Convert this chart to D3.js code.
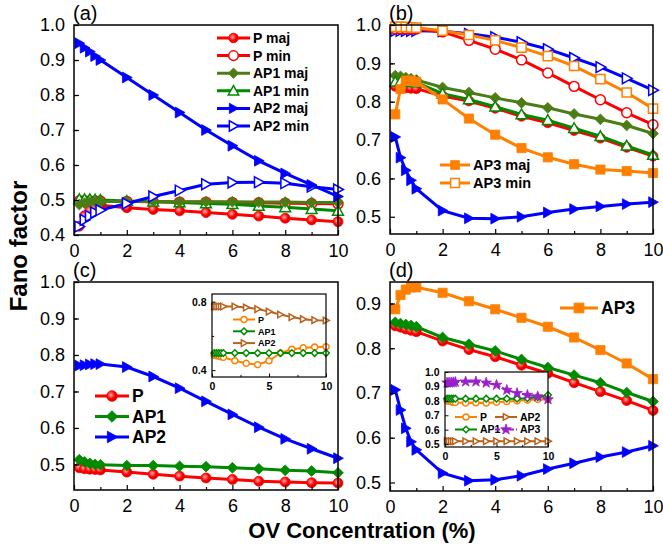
<!DOCTYPE html>
<html>
<head>
<meta charset="utf-8">
<script src="https://cdn.jsdelivr.net/npm/d3@7"></script>
<style>
  body { margin: 0; background: #fff; }
  svg { display: block; font-family: "Liberation Sans", Arial, sans-serif; }
</style>
</head>
<body>
<svg id="fig" width="663" height="550"></svg>
<script>
// OV concentration (%) sampled in every panel
const xs = [0.2, 0.4, 0.6, 0.8, 1, 2, 3, 4, 5, 6, 7, 8, 9, 10];

// (a)
const aPmaj   = [0.425, 0.455, 0.47, 0.48, 0.485, 0.478, 0.473, 0.469, 0.464, 0.459, 0.454, 0.448, 0.443, 0.438];
const aPmin   = [0.498, 0.498, 0.497, 0.497, 0.497, 0.496, 0.495, 0.494, 0.494, 0.493, 0.492, 0.491, 0.49, 0.489];
const aAP1maj = [0.487, 0.491, 0.494, 0.495, 0.496, 0.496, 0.496, 0.495, 0.495, 0.495, 0.494, 0.494, 0.493, 0.493];
const aAP1min = [0.502, 0.502, 0.502, 0.501, 0.5, 0.497, 0.495, 0.493, 0.49, 0.488, 0.483, 0.479, 0.474, 0.469];
const aAP2maj = [0.948, 0.935, 0.924, 0.911, 0.9, 0.85, 0.8, 0.75, 0.7, 0.655, 0.612, 0.576, 0.543, 0.51];
const aAP2min = [0.424, 0.443, 0.454, 0.464, 0.471, 0.49, 0.51, 0.527, 0.545, 0.55, 0.551, 0.548, 0.538, 0.53];

// (b)
const bPmaj   = [0.84, 0.838, 0.836, 0.835, 0.834, 0.815, 0.802, 0.783, 0.762, 0.745, 0.725, 0.705, 0.681, 0.658];
const bPmin   = [0.99, 0.99, 0.99, 0.99, 0.99, 0.982, 0.96, 0.937, 0.909, 0.875, 0.84, 0.805, 0.771, 0.74];
const bAP1maj = [0.868, 0.866, 0.863, 0.86, 0.857, 0.837, 0.824, 0.81, 0.797, 0.784, 0.768, 0.754, 0.738, 0.717];
const bAP1min = [0.852, 0.853, 0.852, 0.851, 0.85, 0.821, 0.806, 0.787, 0.767, 0.752, 0.731, 0.71, 0.685, 0.661];
const bAP2maj = [0.708, 0.654, 0.621, 0.595, 0.573, 0.516, 0.496, 0.495, 0.5, 0.511, 0.52, 0.527, 0.533, 0.538];
const bAP2min = [0.985, 0.985, 0.985, 0.985, 0.985, 0.984, 0.977, 0.968, 0.955, 0.937, 0.914, 0.89, 0.861, 0.83];
const bAP3maj = [0.767, 0.833, 0.855, 0.855, 0.852, 0.806, 0.756, 0.714, 0.679, 0.655, 0.637, 0.623, 0.619, 0.614];
const bAP3min = [0.995, 0.995, 0.995, 0.994, 0.993, 0.985, 0.974, 0.96, 0.941, 0.919, 0.893, 0.859, 0.824, 0.782];

// (c) and its inset
const cP   = [0.491, 0.488, 0.487, 0.486, 0.485, 0.479, 0.473, 0.468, 0.463, 0.459, 0.454, 0.452, 0.45, 0.449];
const cAP1 = [0.513, 0.507, 0.503, 0.5, 0.499, 0.497, 0.497, 0.495, 0.494, 0.491, 0.488, 0.484, 0.482, 0.477];
const cAP2 = [0.771, 0.772, 0.774, 0.775, 0.775, 0.767, 0.741, 0.709, 0.673, 0.637, 0.602, 0.57, 0.543, 0.517];
const ciP   = [0.487, 0.485, 0.482, 0.478, 0.475, 0.455, 0.44, 0.432, 0.455, 0.5, 0.522, 0.53, 0.535, 0.537];
const ciAP1 = [0.5, 0.5, 0.5, 0.5, 0.5, 0.5, 0.5, 0.5, 0.5, 0.5, 0.5, 0.5, 0.5, 0.5];
const ciAP2 = [0.772, 0.772, 0.772, 0.772, 0.772, 0.772, 0.766, 0.757, 0.742, 0.725, 0.71, 0.698, 0.692, 0.69];

// (d) and its inset
const dP   = [0.85, 0.847, 0.843, 0.84, 0.837, 0.816, 0.797, 0.781, 0.762, 0.744, 0.723, 0.703, 0.683, 0.661];
const dAP1 = [0.858, 0.855, 0.853, 0.851, 0.848, 0.824, 0.809, 0.794, 0.775, 0.757, 0.74, 0.723, 0.701, 0.681];
const dAP2 = [0.707, 0.662, 0.621, 0.591, 0.573, 0.521, 0.504, 0.506, 0.515, 0.53, 0.543, 0.557, 0.568, 0.582];
const dAP3 = [0.887, 0.919, 0.931, 0.936, 0.936, 0.924, 0.905, 0.887, 0.868, 0.848, 0.824, 0.796, 0.766, 0.731];
const diP   = [0.8, 0.797, 0.793, 0.79, 0.788, 0.785, 0.787, 0.785, 0.79, 0.795, 0.8, 0.805, 0.81, 0.81];
const diAP1 = [0.815, 0.815, 0.815, 0.815, 0.815, 0.815, 0.815, 0.815, 0.815, 0.815, 0.815, 0.818, 0.825, 0.84];
const diAP2 = [0.52, 0.52, 0.52, 0.52, 0.52, 0.52, 0.52, 0.52, 0.52, 0.52, 0.52, 0.52, 0.52, 0.52];
const diAP3 = [0.925, 0.926, 0.927, 0.928, 0.93, 0.933, 0.933, 0.925, 0.91, 0.875, 0.853, 0.84, 0.83, 0.81];

const RED = "#ff0000", OLIVE = "#4b7d14", GREEN = "#008a00", BLUE = "#0000ff",
      ORANGE = "#ff8000", BROWN = "#b8621d", PURPLE = "#9b1fcc";

const svg = d3.select("#fig");

// shaded ball for the P markers
const grad = svg.append("defs").append("radialGradient").attr("id", "ball")
  .attr("cx", "40%").attr("cy", "40%").attr("r", "60%");
grad.append("stop").attr("offset", "0%").attr("stop-color", "#ffb0b0");
grad.append("stop").attr("offset", "60%").attr("stop-color", RED);
grad.append("stop").attr("offset", "100%").attr("stop-color", "#d00000");

function shape(m, s) {
  if (m === "circle") return d3.symbol(d3.symbolCircle, Math.PI * s * s)();
  if (m === "star") return d3.symbol(d3.symbolStar, 3.2 * s * s)();
  if (m === "diamond") return `M0,${-s}L${s},0L0,${s}L${-s},0Z`;
  if (m === "tri") return `M0,${-s}L${s},${s * 0.8}L${-s},${s * 0.8}Z`;
  if (m === "right") return `M${s},0L${-s * 0.8},${-s}L${-s * 0.8},${s}Z`;
  if (m === "square") return `M${-s * 0.85},${-s * 0.85}h${1.7 * s}v${1.7 * s}h${-1.7 * s}Z`;
}

function drawSeries(g, x, y, list, ms, lw) {
  list.forEach(s => {
    g.append("path").datum(s.v)
      .attr("fill", "none").attr("stroke", s.c).attr("stroke-width", lw)
      .attr("stroke-dasharray", s.dash || null)
      .attr("d", d3.line().x((d, i) => x(xs[i])).y(d => y(d)));
    g.append("g").selectAll("path").data(s.v).join("path")
      .attr("transform", (d, i) => `translate(${x(xs[i])},${y(d)})`)
      .attr("d", shape(s.m, s.m === "circle" ? ms * 0.92 : ms))
      .attr("fill", s.open ? "#fff" : (s.ball ? "url(#ball)" : s.c))
      .attr("stroke", s.c).attr("stroke-width", s.open ? 1.5 : 0.8);
  });
}

function legend(g, items, o) {
  items.forEach((s, i) => {
    const lx = o.x + (s.dx || 0), ly = o.y + (s.dy !== undefined ? s.dy : i * o.step);
    g.append("line").attr("x1", lx).attr("x2", lx + o.len).attr("y1", ly).attr("y2", ly)
      .attr("stroke", s.c).attr("stroke-width", o.lw).attr("stroke-dasharray", s.dash || null);
    g.append("path").attr("transform", `translate(${lx + o.len / 2},${ly})`)
      .attr("d", shape(s.m, s.m === "circle" ? o.ms * 0.92 : o.ms))
      .attr("fill", s.open ? "#fff" : (s.ball ? "url(#ball)" : s.c))
      .attr("stroke", s.c).attr("stroke-width", s.open ? 1.5 : 0.8);
    g.append("text").attr("x", lx + o.len + 3).attr("y", ly).attr("dy", "0.36em")
      .attr("font-size", o.fs).attr("font-weight", "bold").text(s.name);
  });
}

function axes(g, x, y, o) {
  const fs = o.fs, bold = o.bold ? "bold" : "normal";
  const bottom = g.append("g").attr("transform", `translate(0,${o.y1})`);
  bottom.call(d3.axisBottom(x).tickValues(o.xt).tickSize(-o.tk).tickPadding(o.pad + o.tk).tickFormat(d3.format("d")));
  bottom.append("g").call(d3.axisBottom(x).tickValues(o.xm).tickSize(-o.tk * 0.6).tickFormat(""));
  const left = g.append("g").attr("transform", `translate(${o.x0},0)`);
  left.call(d3.axisLeft(y).tickValues(o.yt).tickSize(-o.tk).tickPadding(o.pad + o.tk).tickFormat(d3.format(".1f")));
  left.append("g").call(d3.axisLeft(y).tickValues(o.ym).tickSize(-o.tk * 0.6).tickFormat(""));
  g.selectAll(".domain").remove();
  g.selectAll(".tick line").attr("stroke", "#000").attr("stroke-width", o.frame * 0.8);
  g.selectAll(".tick text").attr("font-family", "Liberation Sans, Arial, sans-serif")
    .attr("font-size", fs).attr("font-weight", bold).attr("fill", "#000");
  g.append("rect").attr("x", o.x0).attr("y", o.y0).attr("width", o.x1 - o.x0).attr("height", o.y1 - o.y0)
    .attr("fill", "none").attr("stroke", "#000").attr("stroke-width", o.frame);
}

function panel(o) {
  const g = svg.append("g");
  if (o.bg) g.append("rect").attr("x", o.x0).attr("y", o.y0).attr("width", o.x1 - o.x0)
    .attr("height", o.y1 - o.y0).attr("fill", "#fff");
  const x = d3.scaleLinear([0, 10], [o.x0, o.x1]);
  const y = d3.scaleLinear(o.yd, [o.y1, o.y0]);
  drawSeries(g, x, y, o.series, o.ms, o.lw);
  axes(g, x, y, o);
  if (o.tag) g.append("text").attr("x", o.x0 - 1).attr("y", o.y0 - 5)
    .attr("font-size", 20).text(o.tag);
  return g;
}

const range = (a, b, s) => d3.range(Math.round(a / s), Math.round(b / s) + 1).map(k => +(k * s).toFixed(3));
const mainAx = { xt: [0, 2, 4, 6, 8, 10], xm: [1, 3, 5, 7, 9], tk: 5, pad: 4, fs: 18, frame: 1.5, ms: 5.4, lw: 3 };

// (a)
const sA = [
  { name: "P maj", v: aPmaj, c: RED, m: "circle", ball: true },
  { name: "P min", v: aPmin, c: RED, m: "circle", open: true },
  { name: "AP1 maj", v: aAP1maj, c: OLIVE, m: "diamond" },
  { name: "AP1 min", v: aAP1min, c: GREEN, m: "tri", open: true },
  { name: "AP2 maj", v: aAP2maj, c: BLUE, m: "right" },
  { name: "AP2 min", v: aAP2min, c: BLUE, m: "right", open: true }
];
const gA = panel({ ...mainAx, tag: "(a)", x0: 74, x1: 338, y0: 25, y1: 235, yd: [0.4, 1.0],
  yt: range(0.4, 1.0, 0.1), ym: range(0.45, 0.95, 0.1), series: [sA[1], sA[0], sA[3], sA[2], sA[5], sA[4]] });
legend(gA, sA, { x: 217, y: 38, step: 17.6, len: 33, lw: 3, ms: 5.2, fs: 14 });

// (b)
const sB3 = [
  { name: "AP3 maj", v: bAP3maj, c: ORANGE, m: "square" },
  { name: "AP3 min", v: bAP3min, c: ORANGE, m: "square", open: true }
];
const gB = panel({ ...mainAx, tag: "(b)", x0: 390, x1: 653, y0: 25, y1: 234, yd: [0.455, 1.0],
  yt: range(0.5, 1.0, 0.1), ym: range(0.55, 0.95, 0.1), series: [
    { v: bAP2min, c: BLUE, m: "right", open: true },
    { v: bPmin, c: RED, m: "circle", open: true },
    sB3[1],
    { v: bAP1maj, c: OLIVE, m: "diamond" },
    { v: bPmaj, c: RED, m: "circle", ball: true },
    { v: bAP1min, c: GREEN, m: "tri", open: true },
    sB3[0],
    { v: bAP2maj, c: BLUE, m: "right" }
  ] });
legend(gB, sB3, { x: 440, y: 165, step: 18, len: 30, lw: 3, ms: 5.2, fs: 14.5 });

// (c)
const sC = [
  { name: "P", v: cP, c: RED, m: "circle", ball: true },
  { name: "AP1", v: cAP1, c: GREEN, m: "diamond" },
  { name: "AP2", v: cAP2, c: BLUE, m: "right" }
];
const gC = panel({ ...mainAx, tag: "(c)", x0: 74, x1: 338, y0: 282, y1: 490, yd: [0.43, 1.0],
  yt: range(0.5, 1.0, 0.1), ym: range(0.45, 0.95, 0.1), series: sC });
legend(gC, sC, { x: 95, y: 396, step: 20.5, len: 34, lw: 3, ms: 5.8, fs: 17.5 });

const insAx = { xt: [0, 5, 10], xm: [2.5, 7.5], tk: 3.5, pad: 2, fs: 10.5, bold: true, frame: 1.2, ms: 3.3, lw: 2, bg: true };
const sCi = [
  { name: "P", v: ciP, c: ORANGE, m: "circle", open: true },
  { name: "AP1", v: ciAP1, c: GREEN, m: "diamond", open: true },
  { name: "AP2", v: ciAP2, c: BROWN, m: "right", open: true }
];
const gCi = panel({ ...insAx, x0: 212, x1: 326, y0: 294, y1: 377, yd: [0.36, 0.845],
  yt: [0.4, 0.8], ym: [0.6], series: [sCi[2], sCi[0], sCi[1]] });
legend(gCi, sCi, { x: 233, y: 319.5, step: 11.8, len: 22, lw: 2, ms: 3.3, fs: 9 });

// (d)
const gD = panel({ ...mainAx, tag: "(d)", x0: 390, x1: 653, y0: 282, y1: 491, yd: [0.481, 0.948],
  yt: range(0.5, 0.9, 0.1), ym: range(0.55, 0.95, 0.1), series: [
    { v: dAP3, c: ORANGE, m: "square" },
    { v: dP, c: RED, m: "circle", ball: true },
    { v: dAP1, c: GREEN, m: "diamond" },
    { v: dAP2, c: BLUE, m: "right" }
  ] });
legend(gD, [{ name: "AP3", c: ORANGE, m: "square" }], { x: 560, y: 308, step: 0, len: 38, lw: 3, ms: 5.8, fs: 17.5 });

const sDi = [
  { name: "P", v: diP, c: ORANGE, m: "circle", open: true, dx: 0, dy: 0 },
  { name: "AP2", v: diAP2, c: BROWN, m: "right", open: true, dx: 40, dy: 0 },
  { name: "AP1", v: diAP1, c: GREEN, m: "diamond", open: true, dx: 0, dy: 12.5 },
  { name: "AP3", v: diAP3, c: PURPLE, m: "star", dash: "5,2", dx: 40, dy: 12.5 }
];
const gDi = panel({ ...insAx, x0: 445, x1: 548, y0: 372, y1: 447, yd: [0.48, 1.0],
  yt: range(0.5, 1.0, 0.1), ym: [], series: [
    { v: diAP2, c: BROWN, m: "right", open: true },
    { v: diP, c: ORANGE, m: "circle", open: true },
    { v: diAP1, c: GREEN, m: "diamond", open: true },
    { v: diAP3, c: PURPLE, m: "star", dash: "5,2" }
  ] });
legend(gDi, sDi, { x: 455, y: 417, step: 0, len: 22, lw: 2, ms: 3.3, fs: 10.5 });

// shared axis titles
svg.append("text").attr("transform", "translate(27,246) rotate(-90)")
  .attr("text-anchor", "middle").attr("font-size", 24).attr("font-weight", "bold").text("Fano factor");
svg.append("text").attr("x", 362).attr("y", 538)
  .attr("text-anchor", "middle").attr("font-size", 22).attr("font-weight", "bold").text("OV Concentration (%)");
</script>
</body>
</html>
